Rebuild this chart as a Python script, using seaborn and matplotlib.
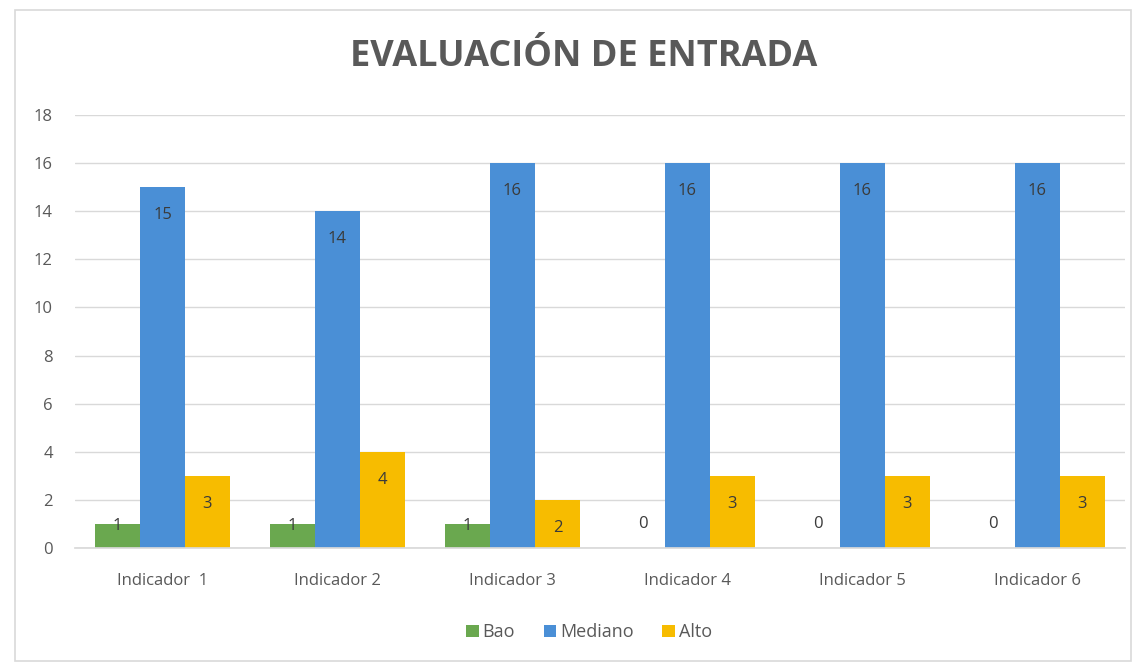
import matplotlib
matplotlib.use("Agg")
import matplotlib.pyplot as plt
import matplotlib.patches as mpatches
import seaborn as sns
import pandas as pd

categories = ["Indicador  1", "Indicador 2", "Indicador 3", "Indicador 4", "Indicador 5", "Indicador 6"]
series_names = ["Bao", "Mediano", "Alto"]
bao = [1, 1, 1, 0, 0, 0]
mediano = [15, 14, 16, 16, 16, 16]
alto = [3, 4, 2, 3, 3, 3]
yticks = [0, 2, 4, 6, 8, 10, 12, 14, 16, 18]
colors = ["#6AA84F", "#4A8FD6", "#F7BC00"]

rows = []
for name, vals in zip(series_names, [bao, mediano, alto]):
    for c, v in zip(categories, vals):
        rows.append({"cat": c, "serie": name, "val": v})
df = pd.DataFrame(rows)

sns.set_theme(style="white")
plt.rcParams['font.family'] = ['Open Sans', 'DejaVu Sans']

fig = plt.figure(figsize=(11.45, 6.68), dpi=100)
ax = fig.add_axes([0.0655, 0.1796, 0.917, 0.6482])
sns.barplot(data=df, x="cat", y="val", hue="serie", palette=colors, width=0.77,
            ax=ax, saturation=1, legend=True, linewidth=0, edgecolor="none")

ax.set_ylim(0, 18)
ax.set_yticks(yticks)
ax.yaxis.grid(True, color="#D9D9D9", linewidth=1)
ax.set_axisbelow(True)
for s in ["top", "right", "left"]:
    ax.spines[s].set_visible(False)
ax.spines["bottom"].set_color("#D9D9D9")
ax.set_xlabel("")
ax.set_ylabel("")
ax.tick_params(axis="both", colors="#595959", labelsize=12, length=0)
ax.tick_params(axis="x", pad=18)
ax.tick_params(axis="y", pad=16)

for cont in ax.containers:
    for b in cont:
        h = b.get_height()
        x = b.get_x() + b.get_width() / 2
        lab = f"{int(h)}"
        if h >= 2:
            ax.text(x, h - 1.16, lab, ha="center", va="center", fontsize=12, color="#3A3A3A")
        elif h > 0:
            ax.text(x, h - 0.08, lab, ha="center", va="center", fontsize=12, color="#3A3A3A")
        else:
            ax.text(x, 1.0, lab, ha="center", va="center", fontsize=12, color="#3A3A3A")

leg = ax.legend(loc="center", bbox_to_anchor=(0.4895, -0.195), ncol=3, frameon=False,
                fontsize=13, handlelength=0.7, handleheight=0.7, handletextpad=0.2,
                columnspacing=1.6)
for t in leg.get_texts():
    t.set_color("#595959")

fig.text(0.51, 0.915, "EVALUACIÓN DE ENTRADA", ha="center", va="center",
         fontsize=26, fontweight="bold", color="#595959")

fig.add_artist(mpatches.Rectangle((0.013, 0.01), 0.975, 0.975, transform=fig.transFigure,
                                  fill=False, edgecolor="#D9D9D9", linewidth=1.2))

fig.savefig("out.png", dpi=100)
